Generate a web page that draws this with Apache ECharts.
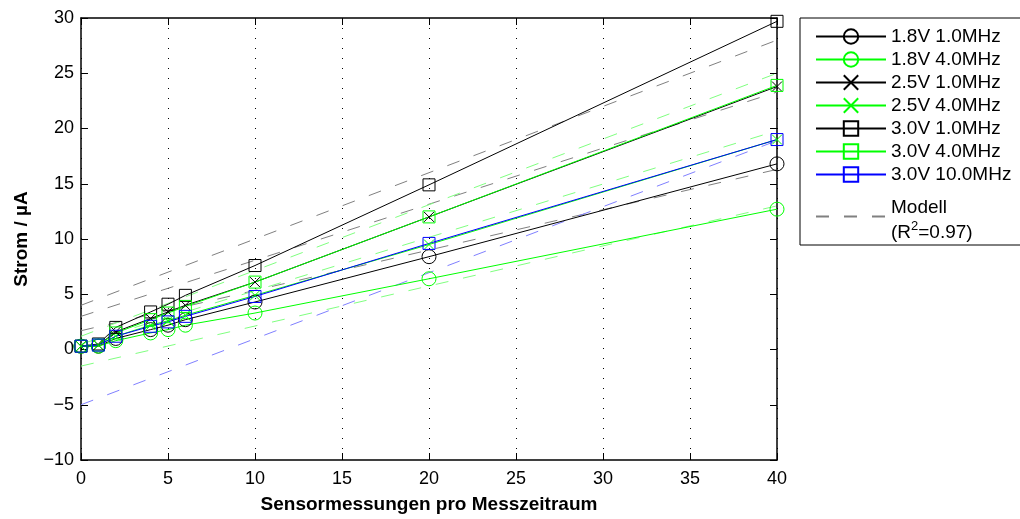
<!DOCTYPE html>
<html>
<head>
<meta charset="utf-8">
<script src="https://cdn.jsdelivr.net/npm/echarts@6/dist/echarts.min.js"></script>
<style>
html,body{margin:0;padding:0;background:#fff;}
#c{width:1020px;height:519px;}
</style>
</head>
<body>
<div id="c"></div>
<script>
// ---- data ----
const xValues = [0, 1, 2, 4, 5, 6, 10, 20, 40];
const seriesNames = ['1.8V 1.0MHz', '1.8V 4.0MHz', '2.5V 1.0MHz', '2.5V 4.0MHz', '3.0V 1.0MHz', '3.0V 4.0MHz', '3.0V 10.0MHz'];
const v18_10 = [0.3, 0.3, 1.0, 1.8, 2.2, 2.7, 4.3, 8.4, 16.8];
const v18_40 = [0.3, 0.3, 0.8, 1.5, 1.8, 2.2, 3.3, 6.4, 12.7];
const v25_10 = [0.3, 0.4, 1.6, 2.8, 3.4, 4.0, 6.1, 12.0, 23.8];
const v25_40 = [0.3, 0.4, 1.2, 2.2, 2.6, 3.1, 4.9, 9.5, 19.0];
const v30_10 = [0.3, 0.5, 2.0, 3.4, 4.1, 4.9, 7.6, 14.9, 29.7];
const v30_40 = [0.3, 0.4, 1.5, 2.7, 3.3, 3.9, 6.1, 12.0, 23.9];
const v30_100 = [0.3, 0.4, 1.2, 2.1, 2.5, 3.0, 4.8, 9.6, 19.0];
// model lines (value at x=0 and x=40)
const modelX = [0, 40];
const m18_10 = [1.7, 16.3];
const m18_40 = [-1.5, 13.0];
const m25_10 = [3.0, 23.3];
const m25_40 = [0.5, 19.8];
const m30_10 = [4.0, 28.0];
const m30_40 = [1.2, 25.0];
const m30_100 = [-5.0, 18.9];
const modelName = 'Modell';
const modelLabel = '{g| }\n{a|Modell}\n{a|(R}{s|2}{a|=0.97)}';

const FONT = '"Liberation Sans", Arial, Helvetica, sans-serif';
const BLACK = '#000000', GREEN = '#00ff00', BLUE = '#0000ff';
const GRAY_M = '#808080', GREEN_M = '#80ff80', BLUE_M = '#8080ff';
const X_PATH = 'path://M0,0L10,10M10,0L0,10';
const CLEAR = 'rgba(0,0,0,0)';

function pairs(xs, ys) { return xs.map((x, i) => [x, ys[i]]); }

function dataSeries(name, vals, color, symbol, size) {
  return {
    name: name, type: 'line', data: pairs(xValues, vals),
    symbol: symbol, symbolSize: size, showSymbol: true,
    lineStyle: { color: color, width: 1 },
    itemStyle: { color: CLEAR, borderColor: color, borderWidth: 1 },
    emphasis: { disabled: true }, z: 3
  };
}
function modelSeries(vals, color) {
  return {
    name: modelName, type: 'line', data: pairs(modelX, vals),
    symbol: 'circle', symbolSize: 0, showSymbol: false,
    lineStyle: { color: color, width: 1, type: [13, 15] },
    itemStyle: { color: CLEAR, borderColor: CLEAR, borderWidth: 0 },
    emphasis: { disabled: true }, z: 2
  };
}

const series = [
  dataSeries(seriesNames[0], v18_10, BLACK, 'circle', 14),
  dataSeries(seriesNames[1], v18_40, GREEN, 'circle', 14),
  dataSeries(seriesNames[2], v25_10, BLACK, X_PATH, 10),
  dataSeries(seriesNames[3], v25_40, GREEN, X_PATH, 10),
  dataSeries(seriesNames[4], v30_10, BLACK, 'rect', 12),
  dataSeries(seriesNames[5], v30_40, GREEN, 'rect', 12),
  dataSeries(seriesNames[6], v30_100, BLUE, 'rect', 12),
  modelSeries(m30_10, GRAY_M),
  modelSeries(m25_10, GRAY_M),
  modelSeries(m18_10, GRAY_M),
  modelSeries(m30_40, GREEN_M),
  modelSeries(m25_40, GREEN_M),
  modelSeries(m18_40, GREEN_M),
  modelSeries(m30_100, BLUE_M)
];

function tickFmt(v) { return v < 0 ? '\u2212' + (-v) : String(v); }

const axisCommon = {
  axisLine: { show: true, onZero: false, lineStyle: { color: '#000', width: 1.5 } },
  axisTick: { show: true, inside: true, length: 7, lineStyle: { color: '#000', width: 1 } },
  splitLine: { show: false }
};

const chart = echarts.init(document.getElementById('c'), null, { renderer: 'canvas' });
chart.setOption({
  animation: false,
  backgroundColor: '#fff',
  textStyle: { fontFamily: FONT },
  grid: { left: 81, right: 243, top: 18, bottom: 57, containLabel: false },
  xAxis: [
    Object.assign({}, axisCommon, {
      type: 'value', min: 0, max: 40, interval: 5, position: 'bottom',
      name: 'Sensormessungen pro Messzeitraum', nameLocation: 'middle', nameGap: 35,
      nameTextStyle: { fontFamily: FONT, fontSize: 19, fontWeight: 'bold', color: '#000' },
      axisLabel: { fontFamily: FONT, fontSize: 18, color: '#000', margin: 10, formatter: tickFmt },
      splitLine: { show: true, lineStyle: { color: '#000', width: 1, type: [1, 9] } }
    }),
    Object.assign({}, axisCommon, {
      type: 'value', min: 0, max: 40, interval: 5, position: 'top',
      axisLabel: { show: false }
    })
  ],
  yAxis: [
    Object.assign({}, axisCommon, {
      type: 'value', min: -10, max: 30, interval: 5, position: 'left',
      name: 'Strom / \u00B5A', nameLocation: 'middle', nameGap: 50,
      nameTextStyle: { fontFamily: FONT, fontSize: 19, fontWeight: 'bold', color: '#000' },
      axisLabel: { fontFamily: FONT, fontSize: 18, color: '#000', margin: 7, formatter: tickFmt }
    }),
    Object.assign({}, axisCommon, {
      type: 'value', min: -10, max: 30, interval: 5, position: 'right',
      axisLabel: { show: false }
    })
  ],
  legend: {
    orient: 'vertical', left: 800, top: 18,
    padding: [9, 12, 0, 15], itemGap: 4, itemWidth: 70, itemHeight: 18,
    backgroundColor: '#fff', borderColor: '#000', borderWidth: 1, borderRadius: 0,
    selectedMode: false,
    textStyle: {
      fontFamily: FONT, fontSize: 19, color: '#000', lineHeight: 18,
      rich: {
        g: { fontSize: 2, lineHeight: 7 },
        a: { fontFamily: FONT, fontSize: 19, color: '#000', lineHeight: 25 },
        s: { fontFamily: FONT, fontSize: 13, color: '#000', lineHeight: 13, verticalAlign: 'top' }
      }
    },
    data: seriesNames.concat([modelName]),
    formatter: function (n) { return n === modelName ? modelLabel : n; }
  },
  series: series
});
</script>
</body>
</html>
